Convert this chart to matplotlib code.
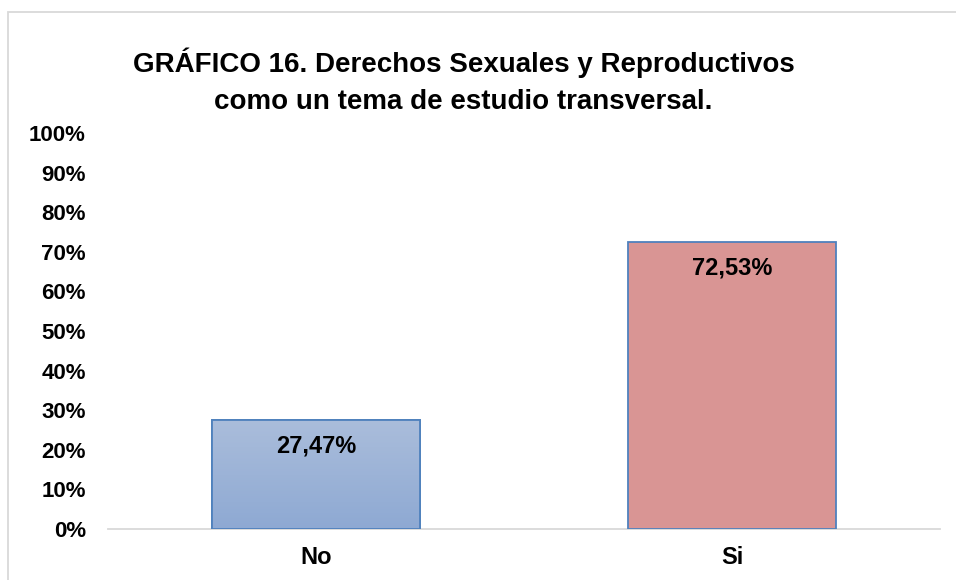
import matplotlib.pyplot as plt
import numpy as np
from matplotlib.colors import LinearSegmentedColormap
from matplotlib.patches import Rectangle

categories = ["No", "Si"]
values = [27.47, 72.53]
value_labels = ["27,47%", "72,53%"]
yticks = [0, 10, 20, 30, 40, 50, 60, 70, 80, 90, 100]

plt.rcParams['font.family'] = ['Liberation Sans', 'DejaVu Sans']
plt.rcParams['font.weight'] = 'bold'

fig = plt.figure(figsize=(9.56, 5.8), dpi=100)
ax = fig.add_axes([108/956, 1 - 529/580, 832/956, 396/580])

x = np.arange(len(categories))
bars = ax.bar(x, values, width=0.5, color=["#A5B9D9", "#D99594"],
              edgecolor="#4F81BD", linewidth=1.3, zorder=3)

# gradient on the "No" bar
cmap = LinearSegmentedColormap.from_list("g", ["#8EA9D3", "#AABDDB"])
b = bars[0]
grad = np.linspace(0, 1, 256).reshape(-1, 1)
im = ax.imshow(grad, cmap=cmap, origin="lower", aspect="auto",
               extent=[b.get_x(), b.get_x() + b.get_width(), 0, b.get_height()],
               zorder=3.5)
im.set_clip_path(b)
ax.add_patch(Rectangle((b.get_x(), 0), b.get_width(), b.get_height(),
                       fill=False, edgecolor="#4F81BD", linewidth=1.3, zorder=4))

for xi, v, lab in zip(x, values, value_labels):
    ax.text(xi, v - 6.6, lab, ha="center", va="center", fontsize=17,
            fontweight="bold", color="black", zorder=5)

ax.set_xlim(-0.5, 1.5)
ax.set_ylim(0, 100)
ax.set_yticks(yticks)
ax.set_yticklabels([f"{t}%" for t in yticks], fontsize=16, fontweight="bold")
ax.set_xticks(x)
ax.set_xticklabels(categories, fontsize=17, fontweight="bold")
ax.tick_params(axis="both", length=0)
ax.tick_params(axis="x", pad=12)
ax.tick_params(axis="y", pad=16)
for s in ["top", "right", "left"]:
    ax.spines[s].set_visible(False)
ax.spines["bottom"].set_color("#D9D9D9")
ax.spines["bottom"].set_linewidth(1.3)

fig.text(0.485, 1 - 81/580, "GRÁFICO 16. Derechos Sexuales y Reproductivos\ncomo un tema de estudio transversal.",
         ha="center", va="center", fontsize=20, fontweight="bold", linespacing=1.55)

# chart border
fig.add_artist(Rectangle((8/956, -0.01), 1.0, 1 - 12/580 + 0.01, transform=fig.transFigure,
                         fill=False, edgecolor="#D9D9D9", linewidth=1.3))

fig.savefig("out.png", dpi=100)
